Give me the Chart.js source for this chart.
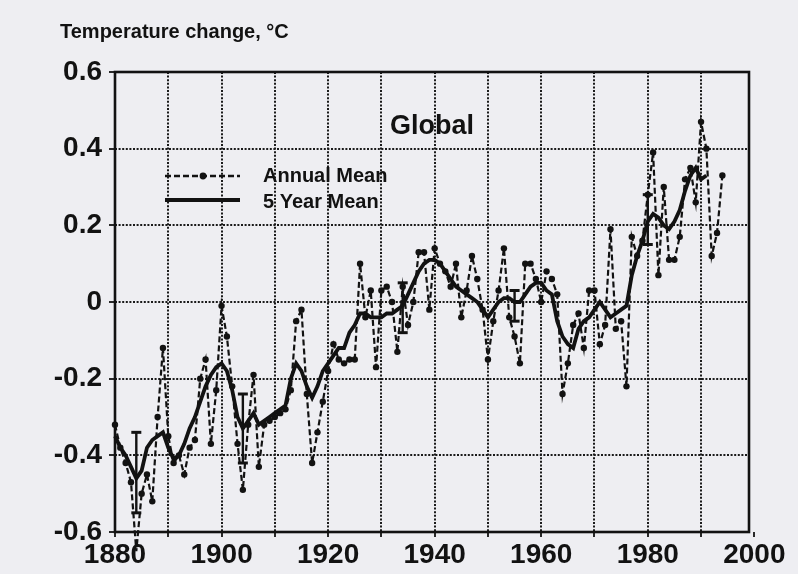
<!DOCTYPE html>
<html><head><meta charset="utf-8">
<script src="https://cdn.jsdelivr.net/npm/chart.js@4/dist/chart.umd.min.js"></script>
<style>
html,body{margin:0;padding:0;background:#eeeef2;}
#wrap{width:798px;height:574px;position:relative;overflow:hidden;}
canvas{display:block;}
</style></head><body>
<div id="wrap"><canvas id="c" width="798" height="574"></canvas></div>
<script>
// ---------------- DATA ----------------
const years = [1880,1881,1882,1883,1884,1885,1886,1887,1888,1889,
1890,1891,1892,1893,1894,1895,1896,1897,1898,1899,
1900,1901,1902,1903,1904,1905,1906,1907,1908,1909,
1910,1911,1912,1913,1914,1915,1916,1917,1918,1919,
1920,1921,1922,1923,1924,1925,1926,1927,1928,1929,
1930,1931,1932,1933,1934,1935,1936,1937,1938,1939,
1940,1941,1942,1943,1944,1945,1946,1947,1948,1949,
1950,1951,1952,1953,1954,1955,1956,1957,1958,1959,
1960,1961,1962,1963,1964,1965,1966,1967,1968,1969,
1970,1971,1972,1973,1974,1975,1976,1977,1978,1979,
1980,1981,1982,1983,1984,1985,1986,1987,1988,1989,
1990,1991,1992,1993,1994];

const annualMean = [-0.32,-0.38,-0.42,-0.47,-0.65,-0.50,-0.45,-0.52,-0.30,-0.12,
-0.35,-0.42,-0.40,-0.45,-0.38,-0.36,-0.20,-0.15,-0.37,-0.23,
-0.01,-0.09,-0.22,-0.37,-0.49,-0.32,-0.19,-0.43,-0.32,-0.31,
-0.30,-0.29,-0.28,-0.23,-0.05,-0.02,-0.24,-0.42,-0.34,-0.26,
-0.18,-0.11,-0.15,-0.16,-0.15,-0.15,0.10,-0.04,0.03,-0.17,
0.03,0.04,0.00,-0.13,0.04,-0.06,0.00,0.13,0.13,-0.02,
0.14,0.10,0.08,0.04,0.10,-0.04,0.03,0.12,0.06,-0.02,
-0.15,-0.05,0.03,0.14,-0.04,-0.09,-0.16,0.10,0.10,0.06,
0.00,0.08,0.06,0.02,-0.24,-0.16,-0.06,-0.03,-0.12,0.03,
0.03,-0.11,-0.06,0.19,-0.07,-0.05,-0.22,0.17,0.12,0.16,
0.28,0.39,0.07,0.30,0.11,0.11,0.17,0.32,0.35,0.26,
0.47,0.40,0.12,0.18,0.33];

// 5-year running mean (1880-1991)
const fiveYearMean = [-0.35,-0.38,-0.40,-0.43,-0.46,-0.44,-0.38,-0.36,-0.35,-0.34,
-0.38,-0.41,-0.40,-0.37,-0.33,-0.30,-0.26,-0.22,-0.19,-0.17,
-0.16,-0.18,-0.23,-0.30,-0.33,-0.31,-0.29,-0.32,-0.31,-0.30,
-0.29,-0.28,-0.27,-0.20,-0.16,-0.18,-0.22,-0.25,-0.22,-0.18,
-0.16,-0.14,-0.12,-0.12,-0.08,-0.06,-0.03,-0.03,-0.04,-0.04,
-0.04,-0.03,-0.03,-0.02,-0.01,0.02,0.05,0.08,0.10,0.11,
0.11,0.10,0.08,0.06,0.04,0.03,0.02,0.01,0.00,-0.02,
-0.04,-0.02,0.00,0.01,0.01,0.00,0.00,0.02,0.04,0.05,
0.05,0.03,0.02,-0.05,-0.09,-0.11,-0.12,-0.07,-0.05,-0.04,
-0.02,0.00,-0.02,-0.04,-0.03,-0.02,-0.01,0.07,0.12,0.16,
0.21,0.23,0.22,0.20,0.19,0.21,0.24,0.29,0.33,0.35,
0.32,0.33];

// error bars (upper / lower limits)
const errYears = [1884,1904,1934,1955,1980];
const errHigh  = [-0.34,-0.24,0.05,0.03,0.28];
const errLow   = [-0.55,-0.42,-0.08,-0.05,0.15];

const xGridYears  = [1880,1890,1900,1910,1920,1930,1940,1950,1960,1970,1980,1990,2000];
const xLabelYears = [1880,1900,1920,1940,1960,1980,2000];
const yTicks = [-0.6,-0.4,-0.2,0,0.2,0.4,0.6];
const yTickLabels = ['-0.6','-0.4','-0.2','0','0.2','0.4','0.6'];

const axisTitle = 'Temperature change, \u00B0C';
const panelTitle = 'Global';
const legendLabels = ['Annual Mean','5 Year Mean'];

// ---------------- CHART ----------------
const INK = '#121212';
const FAM = "'Liberation Sans', Arial, Helvetica, sans-serif";

const annualPts = years.map((y,i)=>({x:y, y:annualMean[i]}));
const fivePts = fiveYearMean.map((v,i)=>({x:years[i], y:v}));
const errPts = [];
errYears.forEach((y,i)=>{
  errPts.push({x:y, y:errHigh[i]});
  errPts.push({x:y, y:errLow[i]});
  errPts.push({x:y, y:null});
});

const bgPlugin = {
  id:'bg',
  beforeDraw(chart){
    const c = chart.ctx;
    c.save(); c.fillStyle = '#eeeef2'; c.fillRect(0,0,chart.width,chart.height); c.restore();
  }
};
const framePlugin = {
  id:'frame',
  beforeDatasetsDraw(chart){
    const a = chart.chartArea, c = chart.ctx;
    c.save(); c.strokeStyle = INK; c.lineWidth = 2.6; c.setLineDash([]);
    c.strokeRect(a.left, a.top, a.right-a.left, a.bottom-a.top);
    c.restore();
  }
};
const textPlugin = {
  id:'texts',
  afterDraw(chart){
    const c = chart.ctx;
    c.save();
    c.fillStyle = INK;
    c.textBaseline = 'alphabetic';
    c.textAlign = 'left';
    c.font = 'bold 20px ' + FAM;
    c.fillText(axisTitle, 60, 38);
    c.font = 'bold 27px ' + FAM;
    c.textAlign = 'center';
    c.fillText(panelTitle, 432, 134);
    // legend
    c.textAlign = 'left';
    c.font = 'bold 20px ' + FAM;
    c.textBaseline = 'middle';
    c.fillText(legendLabels[0], 263, 176);
    c.fillText(legendLabels[1], 263, 202);
    c.strokeStyle = INK;
    c.lineWidth = 2.4;
    c.setLineDash([6,3]);
    c.beginPath(); c.moveTo(165,176); c.lineTo(240,176); c.stroke();
    c.setLineDash([]);
    c.beginPath(); c.arc(203,176,3.4,0,Math.PI*2); c.fill();
    c.lineWidth = 3.8;
    c.beginPath(); c.moveTo(165,200); c.lineTo(240,200); c.stroke();
    c.restore();
  }
};

new Chart(document.getElementById('c'), {
  type:'line',
  data:{ datasets:[
    { label:legendLabels[0], data:annualPts, borderColor:INK, borderWidth:2.2, borderDash:[6,3],
      pointRadius:3.2, pointBackgroundColor:INK, pointBorderColor:INK, pointBorderWidth:0,
      tension:0, clip:false },
    { label:legendLabels[1], data:fivePts, borderColor:INK, borderWidth:3.8, pointRadius:0,
      tension:0, clip:false },
    { label:'error', data:errPts, borderColor:INK, borderWidth:2.4, pointStyle:'line',
      pointRadius:5, pointBorderWidth:3, pointBorderColor:INK, spanGaps:false, clip:false }
  ]},
  options:{
    responsive:false, animation:false, devicePixelRatio:1,
    layout:{ padding:{ top:72, right:49, left:0, bottom:0 } },
    plugins:{ legend:{display:false}, tooltip:{enabled:false}, title:{display:false} },
    scales:{
      x:{
        type:'linear', min:1880, max:1999,
        afterBuildTicks(s){ s.ticks = xGridYears.map(v=>({value:v})); },
        afterFit(s){ s.height = 42; },
        ticks:{ autoSkip:false, maxRotation:0, minRotation:0, padding:1, color:INK,
          font:{ family:FAM, size:28, weight:'bold' },
          callback:(v)=> xLabelYears.includes(v) ? String(v) : '' },
        grid:{ color:(ctx)=> (ctx.tick && ctx.tick.value > 1999) ? 'rgba(0,0,0,0)' : '#1a1a1a',
          lineWidth:2, tickLength:5, tickColor:INK, tickWidth:1.8 },
        border:{ display:false, dash:[2,1.6] }
      },
      y:{
        min:-0.6, max:0.6,
        afterBuildTicks(s){ s.ticks = yTicks.map(v=>({value:v})); },
        afterFit(s){ s.width = 115; },
        ticks:{ padding:7, color:INK, font:{ family:FAM, size:28, weight:'bold' },
          callback:(v)=> { const i = yTicks.findIndex(t=>Math.abs(t-v)<1e-9); return i>=0 ? yTickLabels[i] : ''; } },
        grid:{ color:'#1a1a1a', lineWidth:2, tickLength:6, tickColor:INK, tickWidth:1.8 },
        border:{ display:false, dash:[2,1.6] }
      }
    }
  },
  plugins:[bgPlugin, framePlugin, textPlugin]
});
</script>
</body></html>
